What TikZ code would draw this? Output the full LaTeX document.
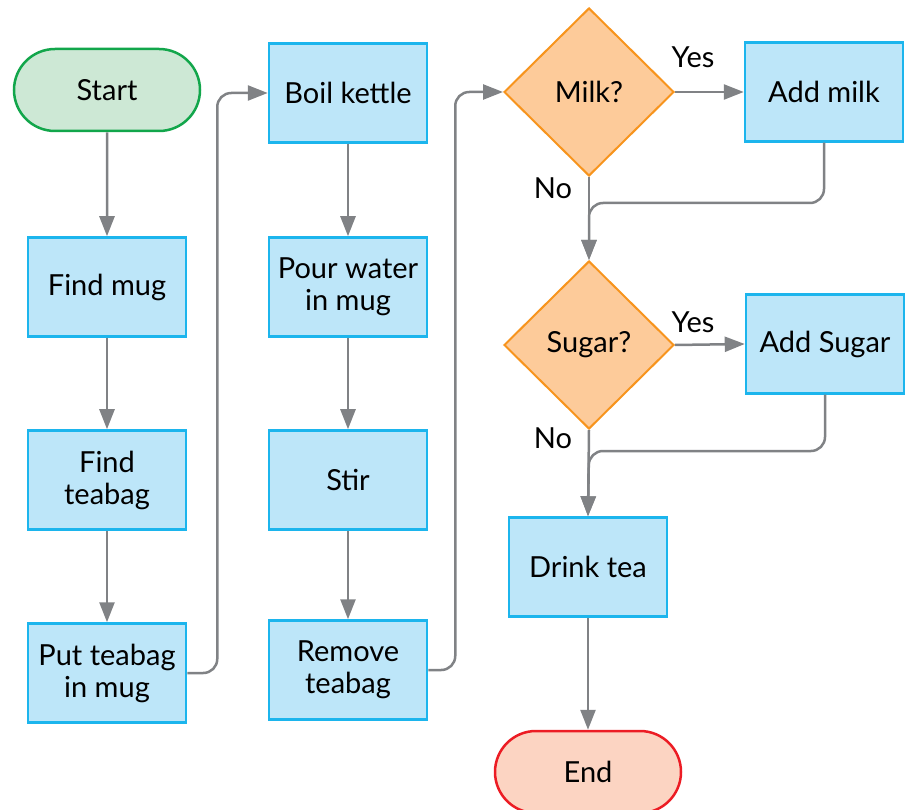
\documentclass[tikz,border=0pt]{standalone}
\usepackage{fontspec}
\setmainfont{Lato}
\usetikzlibrary{shapes.geometric,shapes.misc,arrows.meta}
\definecolor{boxfill}{HTML}{BDE6F9}
\definecolor{boxline}{HTML}{1CB5ED}
\definecolor{decfill}{HTML}{FDCB9A}
\definecolor{decline}{HTML}{F7941D}
\definecolor{startfill}{HTML}{CDE8D5}
\definecolor{startline}{HTML}{12A64B}
\definecolor{endfill}{HTML}{FCD4C2}
\definecolor{endline}{HTML}{EC1C24}
\definecolor{conncol}{HTML}{808285}
\begin{document}
\begin{tikzpicture}[x=1pt,y=-1pt,
  txt/.style={font=\fontsize{29}{32}\selectfont, text=black},
  proc/.style={txt, draw=boxline, fill=boxfill, line width=2.5pt, minimum width=158pt, minimum height=99pt, align=center, inner sep=0pt},
  term/.style={txt, rounded rectangle, line width=2.5pt, minimum width=186pt, minimum height=82pt, inner sep=0pt},
  dec/.style={txt, diamond, draw=decline, fill=decfill, line width=2pt, minimum width=170pt, minimum height=168pt, inner sep=0pt},
  conn/.style={draw=conncol, line width=2.5pt, rounded corners=14pt, -{Triangle[length=20pt,width=15pt]}},
  lbl/.style={txt}]
\useasboundingbox (0,0) rectangle (911,810);
\node[term, draw=startline, fill=startfill] (start) at (107,90) {Start};
\node[proc] (mug) at (107,287) {Find mug};
\node[proc] (teabag) at (107,480) {Find\\teabag};
\node[proc] (put) at (107,673) {Put teabag\\in mug};
\node[proc] (boil) at (348,93) {Boil kettle};
\node[proc] (pour) at (348,287) {Pour water\\in mug};
\node[proc] (stir) at (348,480) {Stir};
\node[proc] (remove) at (348,670) {Remove\\teabag};
\node[dec] (milk) at (589,92) {Milk?};
\node[proc] (addmilk) at (824,92) {Add milk};
\node[dec] (sugar) at (589,345) {Sugar?};
\node[proc] (addsugar) at (825,344) {Add Sugar};
\node[proc] (drink) at (588,567) {Drink tea};
\node[term, draw=endline, fill=endfill] (end) at (588,772) {End};
\node[lbl] (yes1) at (693,57) {Yes};
\node[lbl] (no1) at (553,188) {No};
\node[lbl] (yes2) at (693,322) {Yes};
\node[lbl] (no2) at (553,438) {No};
\coordinate (j1) at (589,203);
\coordinate (j2) at (589,451);
\draw[conn] (start) -- (mug);
\draw[conn] (mug) -- (teabag);
\draw[conn] (teabag) -- (put);
\draw[conn] (put.east) -- ++(30,0) |- (boil.west);
\draw[conn] (boil) -- (pour);
\draw[conn] (pour) -- (stir);
\draw[conn] (stir) -- (remove);
\draw[conn] (remove.east) -- ++(27,0) |- (milk.west);
\draw[conn] (milk.east) -- (addmilk.west);
\draw[conn] (milk.south) -- (sugar.north);
\draw[conn] (addmilk.south) |- (j1) -- (sugar.north);
\draw[conn] (sugar.east) -- (addsugar.west);
\draw[conn] (sugar.south) -- (drink.north);
\draw[conn] (addsugar.south) |- (j2) -- (drink.north);
\draw[conn] (drink) -- (end);
\end{tikzpicture}
\end{document}
